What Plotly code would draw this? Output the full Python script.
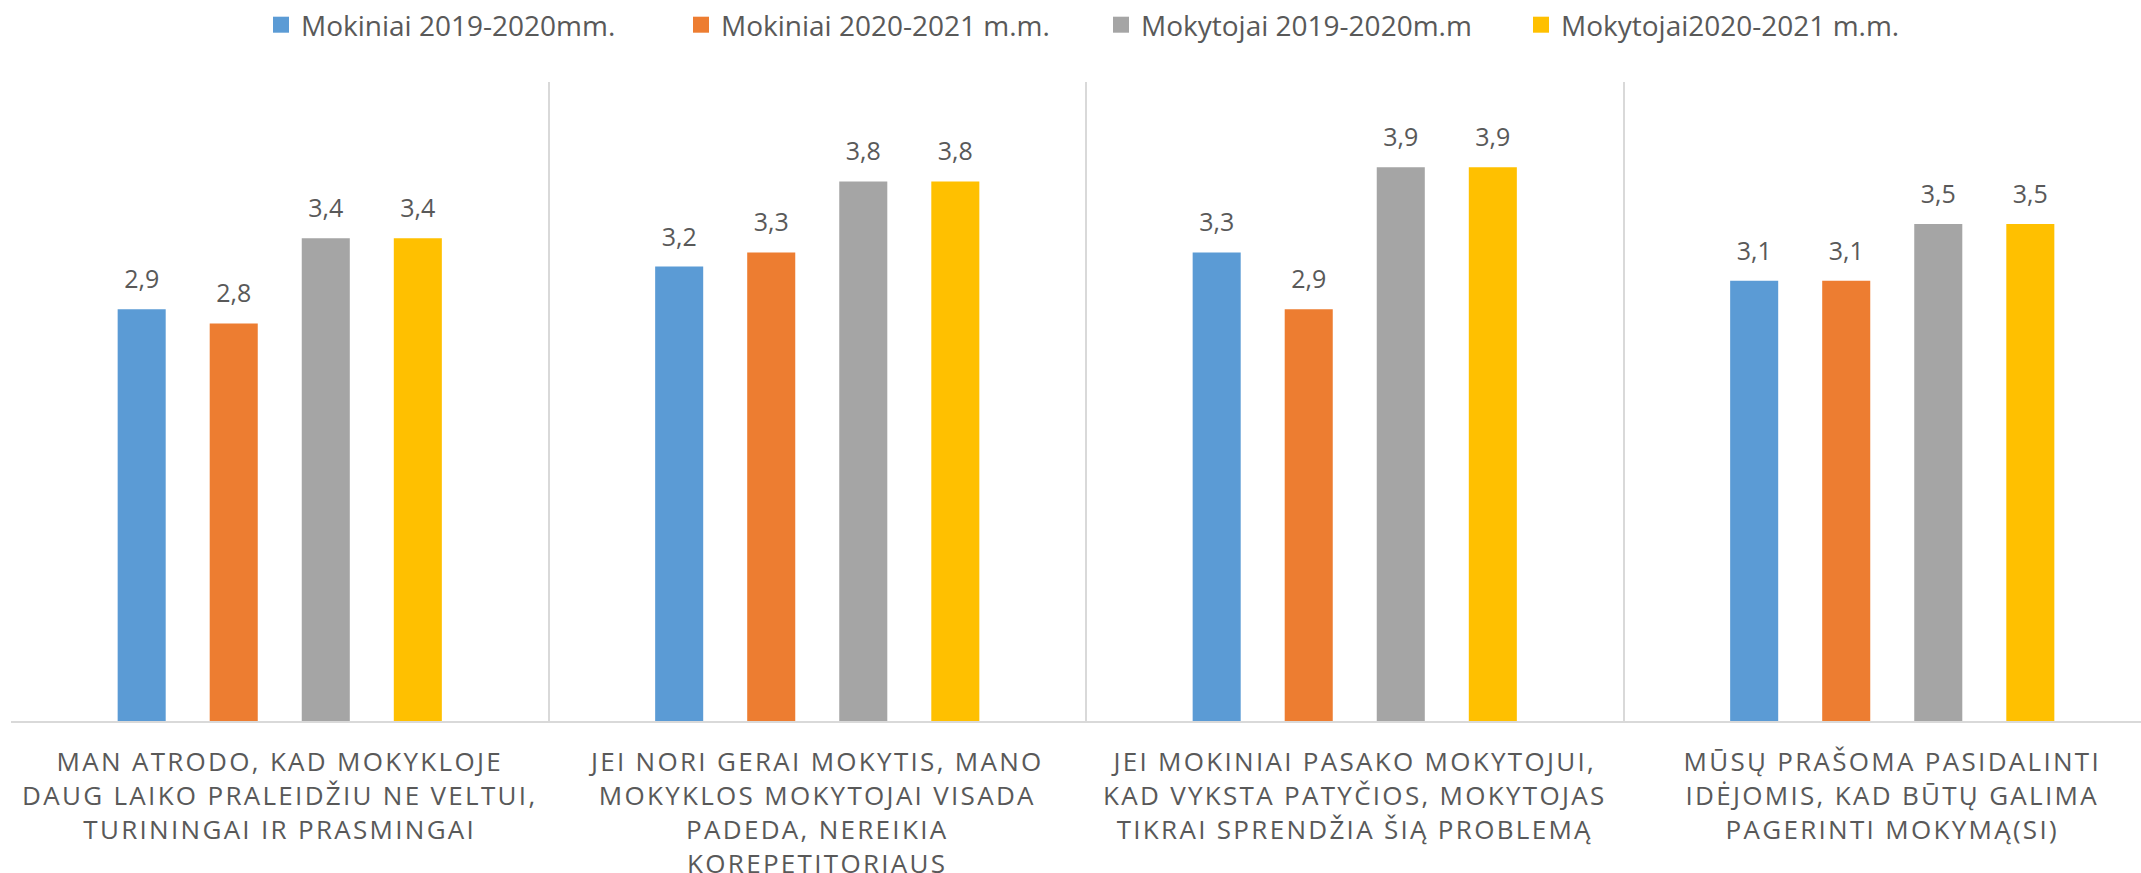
import plotly.graph_objects as go

categories = [
    "MAN ATRODO, KAD MOKYKLOJE<br>DAUG LAIKO PRALEIDŽIU NE VELTUI,<br>TURININGAI IR PRASMINGAI",
    "JEI NORI GERAI MOKYTIS, MANO<br>MOKYKLOS MOKYTOJAI VISADA<br>PADEDA, NEREIKIA<br>KOREPETITORIAUS",
    "JEI MOKINIAI PASAKO MOKYTOJUI,<br>KAD VYKSTA PATYČIOS, MOKYTOJAS<br>TIKRAI SPRENDŽIA ŠIĄ PROBLEMĄ",
    "MŪSŲ PRAŠOMA PASIDALINTI<br>IDĖJOMIS, KAD BŪTŲ GALIMA<br>PAGERINTI MOKYMĄ(SI)",
]
series_names = [
    "Mokiniai 2019-2020mm.",
    "Mokiniai 2020-2021 m.m.",
    "Mokytojai 2019-2020m.m",
    "Mokytojai2020-2021 m.m.",
]
mokiniai_2019 = [2.9, 3.2, 3.3, 3.1]
mokiniai_2020 = [2.8, 3.3, 2.9, 3.1]
mokytojai_2019 = [3.4, 3.8, 3.9, 3.5]
mokytojai_2020 = [3.4, 3.8, 3.9, 3.5]
series_values = [mokiniai_2019, mokiniai_2020, mokytojai_2019, mokytojai_2020]
colors = ["#5B9BD5", "#ED7D31", "#A5A5A5", "#FFC000"]

FONT = "Open Sans"
GRAY = "#595959"

fig = go.Figure()
for name, vals, col in zip(series_names, series_values, colors):
    fig.add_trace(go.Bar(
        x=categories, y=vals, name=name, marker_color=col,
        marker_line_width=0, showlegend=False, legendgroup=name,
        texttemplate="%{y:.1f}", textposition="outside",
        textfont=dict(family=FONT, size=25, color=GRAY),
        cliponaxis=False,
    ))
# legend entries with larger square symbols
for name, col in zip(series_names, colors):
    fig.add_trace(go.Scatter(
        x=[None], y=[None], mode="markers", name=name, legendgroup=name,
        marker=dict(symbol="square", size=16, color=col),
    ))

W, H = 2141, 873
L, R, T, B = 11, 0, 82, 152
cat_px = 537.5
plot_w = W - L - R

fig.update_layout(
    width=W, height=H,
    margin=dict(l=L, r=R, t=T, b=B, pad=0, autoexpand=False),
    paper_bgcolor="white", plot_bgcolor="white",
    separators=", ",
    barmode="group", bargap=0.315, bargroupgap=0.478,
    font=dict(family=FONT, color=GRAY),
    legend=dict(
        orientation="h", xref="container", yref="container",
        x=261 / W, xanchor="left", y=1.0, yanchor="top",
        font=dict(family=FONT, size=28, color=GRAY),
        entrywidth=375, itemwidth=30, bgcolor="rgba(0,0,0,0)",
    ),
    xaxis=dict(
        range=[-0.5, -0.5 + plot_w / cat_px], automargin=False,
        showgrid=True, gridcolor="#D9D9D9", gridwidth=2,
        tickson="boundaries", ticks="", ticklen=0,
        showline=True, linecolor="#D9D9D9", linewidth=2,
        tickfont=dict(family=FONT, size=26, color=GRAY),
        ticklabelstandoff=17, zeroline=False,
    ),
    yaxis=dict(range=[0, 4.5], visible=False, automargin=False),
)

post = """
document.body.style.margin = '0';
document.body.style.overflow = 'hidden';
var gd = document.getElementById('{plot_id}');
function styleChart(){
  gd.querySelectorAll('.xtick text').forEach(function(t){ t.style.letterSpacing = '2.3px'; });
  gd.querySelectorAll('.bars .bartext').forEach(function(t){
    var tr = t.getAttribute('transform') || '';
    if (t.getAttribute('data-shifted') !== tr) {
      var n = tr + ' translate(0,-11)';
      t.setAttribute('transform', n);
      t.setAttribute('data-shifted', n);
    }
  });
}
styleChart();
gd.on('plotly_afterplot', styleChart);
"""
fig.write_html("out.html", post_script=post, config={"displayModeBar": False})
